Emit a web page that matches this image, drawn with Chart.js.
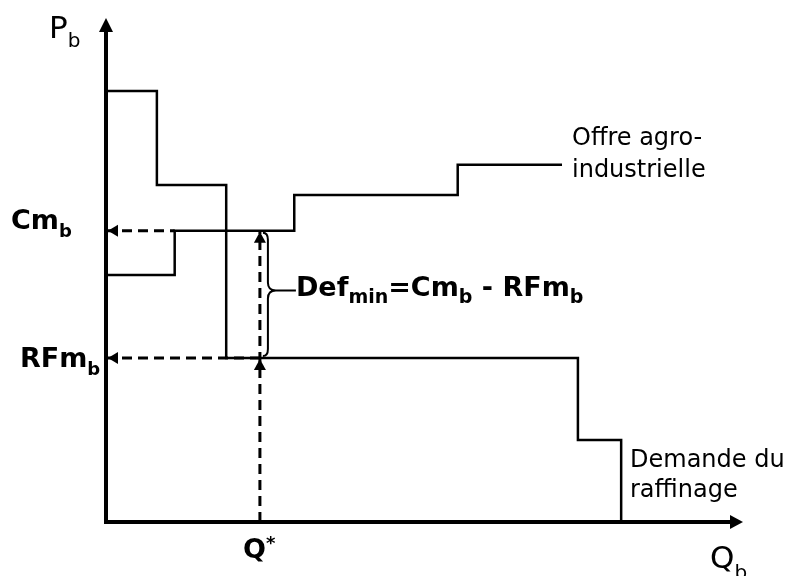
<!DOCTYPE html>
<html>
<head>
<meta charset="utf-8">
<script src="https://cdn.jsdelivr.net/npm/chart.js@4"></script>
<style>
  body { margin: 0; background: #fff; }
  #wrap { width: 786px; height: 576px; }
</style>
</head>
<body>
<div id="wrap"><canvas id="graphe" width="786" height="576"></canvas></div>
<script>
// Offre agro-industrielle (escalier croissant)
const qOffre = [0, 10.8, 29.6, 55.3, 71.7];
const pOffre = [49.1, 57.9, 65.0, 71.0, 71.0];
// Demande du raffinage (escalier décroissant)
const qDemande = [0, 8.0, 18.9, 74.2, 81.0];
const pDemande = [85.7, 67.0, 32.6, 16.3, 0];
// Équilibre
const cmB = 57.9;
const rfmB = 32.6;
const qStar = 24.2;

const FONT = "'DejaVu Sans', Verdana, sans-serif";

function pts(xs, ys) {
    return xs.map((x, i) => ({ x: x, y: ys[i] }));
}

function texte(ctx, x, y, morceaux) {
    // morceaux : [texte, taille, gras, decalage vertical]
    for (const m of morceaux) {
        ctx.font = (m[2] ? 'bold ' : '') + m[1] + 'px ' + FONT;
        ctx.fillText(m[0], x, y + (m[3] || 0));
        x += ctx.measureText(m[0]).width;
    }
}

function fleche(ctx, x, y, dir, long, demi) {
    ctx.beginPath();
    if (dir === 'up') {
        ctx.moveTo(x, y);
        ctx.lineTo(x - demi, y + long);
        ctx.lineTo(x + demi, y + long);
    } else if (dir === 'left') {
        ctx.moveTo(x, y);
        ctx.lineTo(x + long, y - demi);
        ctx.lineTo(x + long, y + demi);
    } else {
        ctx.moveTo(x, y);
        ctx.lineTo(x - long, y - demi);
        ctx.lineTo(x - long, y + demi);
    }
    ctx.closePath();
    ctx.fill();
}

// Axes, flèches, accolade et textes
const decor = {
    id: 'decor',
    afterDatasetsDraw(chart) {
        const ctx = chart.ctx;
        const sx = chart.scales.x, sy = chart.scales.y;
        const x0 = sx.getPixelForValue(0), y0 = sy.getPixelForValue(0);
        const xMax = sx.getPixelForValue(100), yMax = sy.getPixelForValue(100);
        ctx.save();
        ctx.fillStyle = '#000';
        ctx.strokeStyle = '#000';

        // axes
        ctx.lineWidth = 4;
        ctx.beginPath();
        ctx.moveTo(x0, y0 + 2);
        ctx.lineTo(x0, yMax + 8);
        ctx.moveTo(x0 - 2, y0);
        ctx.lineTo(xMax - 8, y0);
        ctx.stroke();
        fleche(ctx, x0, yMax - 1, 'up', 14, 7);
        fleche(ctx, xMax + 1, y0, 'right', 13, 7);

        // pointes des pointillés
        const yc = sy.getPixelForValue(cmB), yr = sy.getPixelForValue(rfmB);
        const xq = sx.getPixelForValue(qStar);
        fleche(ctx, x0 + 2, yc, 'left', 10, 6);
        fleche(ctx, x0 + 2, yr, 'left', 10, 6);
        fleche(ctx, xq, yc + 1, 'up', 11, 6);
        fleche(ctx, xq, yr + 1, 'up', 11, 6);

        // accolade
        const bx = xq + 8, haut = yc + 2, bas = yr - 2, mil = (haut + bas) / 2 - 4;
        ctx.lineWidth = 2;
        ctx.beginPath();
        ctx.moveTo(bx - 5, haut);
        ctx.quadraticCurveTo(bx, haut, bx, haut + 7);
        ctx.lineTo(bx, mil - 8);
        ctx.quadraticCurveTo(bx, mil, bx + 8, mil);
        ctx.quadraticCurveTo(bx, mil, bx, mil + 8);
        ctx.lineTo(bx, bas - 7);
        ctx.quadraticCurveTo(bx, bas, bx - 5, bas);
        ctx.moveTo(bx + 8, mil);
        ctx.lineTo(bx + 28, mil);
        ctx.stroke();

        // textes
        ctx.textBaseline = 'alphabetic';
        texte(ctx, 49, 38, [['P', 31, false], ['b', 20, false, 9]]);
        texte(ctx, 710, 568, [['Q', 31, false], ['b', 20, false, 11]]);
        texte(ctx, 11, yc - 2, [['Cm', 27, true], ['b', 18, true, 8]]);
        texte(ctx, 20, yr + 9, [['RFm', 27, true], ['b', 18, true, 8]]);
        texte(ctx, 243, 558, [['Q', 27, true], ['*', 18, true, -9]]);
        texte(ctx, bx + 28, mil + 6, [
            ['Def', 27, true], ['min', 19, true, 7], ['=Cm', 27, true],
            ['b', 19, true, 7], [' - RFm', 27, true], ['b', 19, true, 7]
        ]);
        texte(ctx, 572, 145, [['Offre agro-', 24, false]]);
        texte(ctx, 572, 177, [['industrielle', 24, false]]);
        texte(ctx, 630, 467, [['Demande du', 24, false]]);
        texte(ctx, 630, 497, [['raffinage', 24, false]]);
        ctx.restore();
    }
};

const ctx = document.getElementById('graphe');
const graphe = new Chart(ctx, {
    type: 'scatter',
    data: {
        datasets: [
            {
                label: 'Offre agro-industrielle',
                data: pts(qOffre, pOffre),
                showLine: true,
                stepped: 'before',
                borderColor: '#000',
                borderWidth: 2.5,
                pointRadius: 0,
                clip: false
            },
            {
                label: 'Demande du raffinage',
                data: pts(qDemande, pDemande),
                showLine: true,
                stepped: 'before',
                borderColor: '#000',
                borderWidth: 2.5,
                pointRadius: 0,
                clip: false
            },
            {
                label: 'Cm',
                data: [{ x: 0, y: cmB }, { x: qOffre[1], y: cmB }],
                showLine: true,
                borderColor: '#000',
                borderWidth: 3,
                borderDash: [10, 6],
                pointRadius: 0,
                clip: false
            },
            {
                label: 'RFm',
                data: [{ x: 0, y: rfmB }, { x: qStar, y: rfmB }],
                showLine: true,
                borderColor: '#000',
                borderWidth: 3,
                borderDash: [10, 6],
                pointRadius: 0,
                clip: false
            },
            {
                label: 'Q*',
                data: [{ x: qStar, y: 0 }, { x: qStar, y: cmB }],
                showLine: true,
                borderColor: '#000',
                borderWidth: 3,
                borderDash: [10, 6],
                pointRadius: 0,
                clip: false
            }
        ]
    },
    options: {
        responsive: false,
        devicePixelRatio: 1,
        animation: false,
        layout: { padding: { left: 106, right: 44, top: 19, bottom: 54 } },
        plugins: { legend: { display: false }, tooltip: { enabled: false } },
        scales: {
            x: { type: 'linear', min: 0, max: 100, display: false },
            y: { type: 'linear', min: 0, max: 100, display: false }
        }
    },
    plugins: [decor]
});
</script>
</body>
</html>
